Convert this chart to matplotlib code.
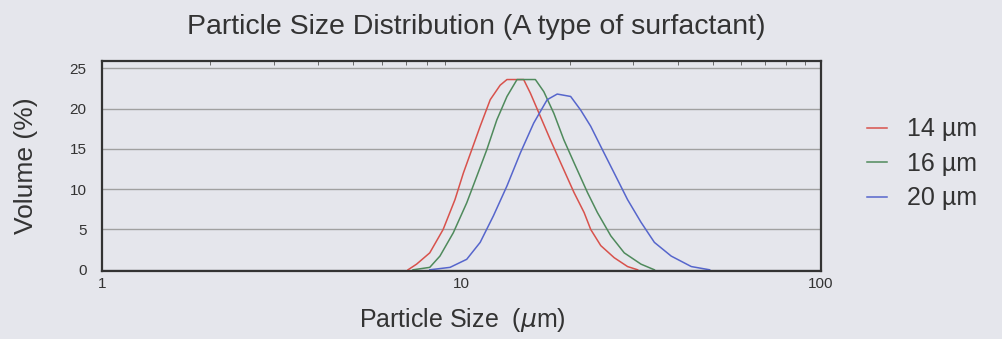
import matplotlib.pyplot as plt
from matplotlib.ticker import FixedLocator, NullFormatter

# particle size (um) and volume (%)
x_14 = [7.1, 7.5, 8.16, 8.89, 9.59, 10.12, 10.68, 11.27, 12.02, 12.81, 13.38,
        14.89, 15.55, 16.58, 17.68, 18.86, 20.55, 21.93, 22.88, 24.4, 26.59,
        28.97, 30.9]
y_14 = [0, 0.7, 2.1, 5.0, 8.7, 12.0, 14.9, 17.8, 21.1, 22.9, 23.6,
        23.6, 21.9, 19.0, 16.1, 13.3, 9.6, 7.1, 5.0, 3.0, 1.5,
        0.4, 0]

x_16 = [7.33, 8.16, 8.71, 9.49, 10.34, 11.03, 11.76, 12.54, 13.38, 14.27,
        16.05, 16.94, 18.07, 19.27, 20.55, 22.4, 23.88, 26.03, 28.36, 31.57,
        34.4]
y_16 = [0, 0.3, 1.7, 4.6, 8.3, 11.6, 14.9, 18.6, 21.5, 23.6,
        23.6, 22.1, 19.4, 16.1, 13.3, 9.6, 7.1, 4.2, 2.1, 0.7,
        0]

x_20 = [8.16, 9.29, 10.34, 11.27, 12.27, 13.38, 14.58, 15.88, 17.31, 18.46,
        20.12, 21.46, 22.88, 24.4, 26.59, 28.97, 31.57, 34.4, 38.31, 43.58,
        49.0]
y_20 = [0, 0.3, 1.3, 3.4, 6.7, 10.4, 14.5, 18.2, 21.1, 21.8,
        21.5, 19.8, 17.8, 15.3, 12.0, 8.7, 5.9, 3.4, 1.7, 0.4,
        0]

labels = ['14 µm', '16 µm', '20 µm']
colors = ['#d8524c', '#4f8a5c', '#5666cc']

bg = '#e5e6ec'
txt = '#333333'
plt.rcParams['font.family'] = ['Liberation Sans', 'DejaVu Sans']

fig = plt.figure(figsize=(10.02, 3.39), dpi=100, facecolor=bg)
ax = fig.add_axes([102 / 1002, 1 - 271 / 339, (821 - 102) / 1002, 210 / 339])
ax.set_facecolor(bg)

for xs, ys, lab, c in zip([x_14, x_16, x_20], [y_14, y_16, y_20], labels, colors):
    ax.plot(xs, ys, color=c, lw=1.1, label=lab)

ax.set_xscale('log')
ax.set_xlim(1, 100)
ax.set_ylim(-0.15, 25.9)

ax.set_yticks([0, 5, 10, 15, 20, 25])
ax.set_xticks([1, 10, 100])
ax.set_xticklabels(['1', '10', '100'])
ax.xaxis.set_minor_formatter(NullFormatter())
ax.tick_params(axis='both', which='both', length=0, labelsize=11, colors=txt)
ax.tick_params(axis='x', pad=4)
ax.tick_params(axis='y', pad=11)

# small inward minor ticks along the top edge
sec = ax.secondary_xaxis('top')
sec.set_xticks([])
sec.xaxis.set_minor_locator(FixedLocator([2, 3, 4, 5, 6, 7, 8, 9, 20, 30, 40, 50, 60, 70, 80, 90]))
sec.tick_params(which='minor', direction='in', length=3, color='#555555')
sec.xaxis.set_minor_formatter(NullFormatter())
sec.spines['top'].set_visible(False)

ax.grid(axis='y', color='#a0a0a0', lw=1)
ax.set_axisbelow(True)
for sp in ax.spines.values():
    sp.set_color(txt)
    sp.set_linewidth(1.6)

fig.text(0.475, 0.92, 'Particle Size Distribution (A type of surfactant)',
         ha='center', va='center', fontsize=20.5, color=txt)
fig.text(462 / 1002, 0.056, 'Particle Size  ($\\mu$m)',
         ha='center', va='center', fontsize=18, color=txt)
fig.text(26 / 1002, 0.51, 'Volume (%)', rotation=90,
         ha='center', va='center', fontsize=19, color=txt)

fig.legend(loc='upper left', bbox_to_anchor=(0.843, 0.72), frameon=False,
           fontsize=18, handlelength=0.8, handletextpad=0.8, labelspacing=0.42,
           labelcolor=txt)

fig.savefig('out.png', dpi=100, facecolor=bg)
